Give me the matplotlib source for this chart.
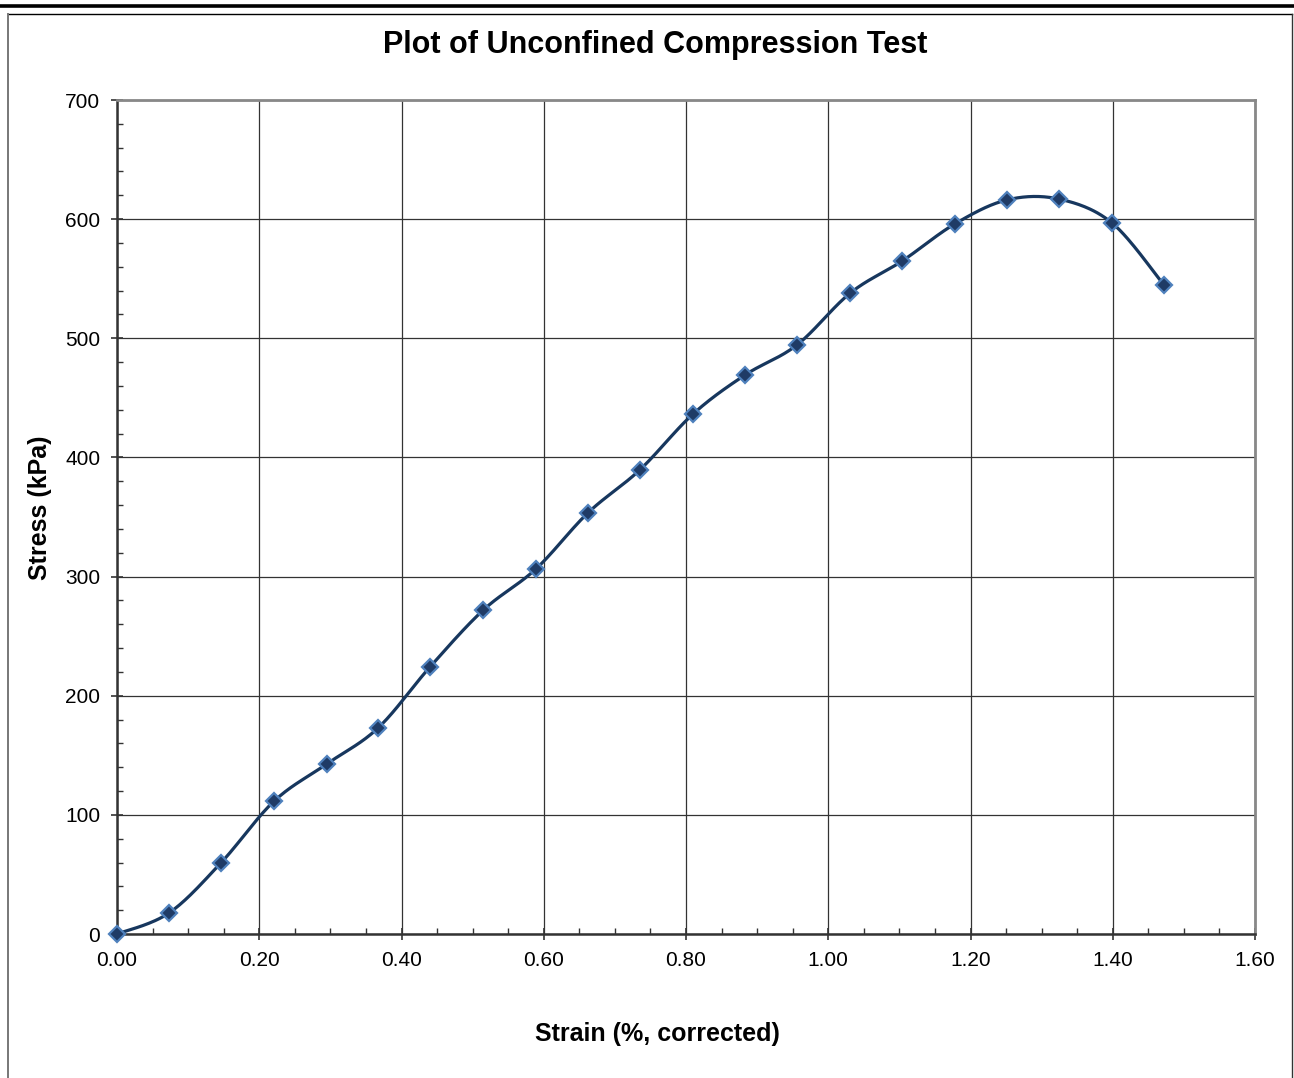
import numpy as np
import matplotlib
matplotlib.use("Agg")
import matplotlib.pyplot as plt
from matplotlib.lines import Line2D
from matplotlib.ticker import MultipleLocator, FormatStrFormatter

plt.rcParams['font.family'] = ['Liberation Sans', 'DejaVu Sans']

# ---- data ----
strain = [0.000, 0.073, 0.146, 0.221, 0.295, 0.367, 0.440, 0.515, 0.589, 0.662,
          0.735, 0.810, 0.883, 0.956, 1.031, 1.104, 1.178, 1.251, 1.324, 1.399, 1.472]
stress = [0.0, 17.6, 59.6, 111.6, 142.7, 172.9, 224.1, 271.9, 306.4, 353.4,
          389.5, 436.5, 469.2, 494.4, 538.0, 564.9, 596.0, 616.1, 616.9, 596.8, 544.7]

title = "Plot of Unconfined Compression Test"
xlabel = "Strain (%, corrected)"
ylabel = "Stress (kPa)"


def smooth_curve(x, y, n=30):
    """Excel-style smoothed line (Catmull-Rom as cubic Bezier)."""
    P = np.column_stack([x, y]).astype(float)
    Pe = np.vstack([P[0], P, P[-1]])
    t = np.linspace(0, 1, n)[:, None]
    out = []
    for i in range(len(P) - 1):
        p0, p1, p2, p3 = Pe[i], Pe[i + 1], Pe[i + 2], Pe[i + 3]
        c1 = p1 + (p2 - p0) / 6.0
        c2 = p2 - (p3 - p1) / 6.0
        seg = ((1 - t) ** 3) * p1 + 3 * ((1 - t) ** 2) * t * c1 + 3 * (1 - t) * t ** 2 * c2 + t ** 3 * p2
        out.append(seg if i == 0 else seg[1:])
    out = np.vstack(out)
    return out[:, 0], out[:, 1]


W, H = 1294, 1078
fig = plt.figure(figsize=(W / 100, H / 100), dpi=100)
ax = fig.add_axes([117 / W, 1 - 934 / H, (1255 - 117) / W, (934 - 100) / H])

sx, sy = smooth_curve(strain, stress)
ax.plot(sx, sy, color='#17375E', lw=2.3, zorder=3, solid_capstyle='round')
ax.plot(strain, stress, linestyle='none', marker='D', markersize=8,
        markerfacecolor='#1F3B66', markeredgecolor='#4F81BD', markeredgewidth=1.6, zorder=4,
        clip_on=False)

ax.set_xlim(0, 1.6)
ax.set_ylim(0, 700)
ax.xaxis.set_major_locator(MultipleLocator(0.2))
ax.xaxis.set_minor_locator(MultipleLocator(0.05))
ax.yaxis.set_major_locator(MultipleLocator(100))
ax.yaxis.set_minor_locator(MultipleLocator(20))
ax.xaxis.set_major_formatter(FormatStrFormatter('%.2f'))

ax.grid(True, which='major', color='#333333', lw=0.9)
ax.set_axisbelow(True)

ax.tick_params(axis='both', which='major', direction='inout', length=8, width=1.2,
               labelsize=15, color='#333333')
ax.tick_params(axis='x', which='major', pad=8)
ax.tick_params(axis='y', which='major', pad=8)
ax.tick_params(axis='both', which='minor', direction='in', length=4, width=1.0, color='#333333')

for s in ['left', 'bottom']:
    ax.spines[s].set_color('#333333')
    ax.spines[s].set_linewidth(1.8)
for s in ['top', 'right']:
    ax.spines[s].set_color('#888888')
    ax.spines[s].set_linewidth(2.0)

fig.text(655 / W, 1 - 45 / H, title, ha='center', va='center', fontsize=22, fontweight='bold')
fig.text(657 / W, 1 - 1034 / H, xlabel, ha='center', va='center', fontsize=18, fontweight='bold')
fig.text(40 / W, 1 - 508 / H, ylabel, ha='center', va='center', fontsize=18, fontweight='bold',
         rotation=90)

# chart frame and top rule
fig.add_artist(Line2D([0, 1], [1 - 6 / H, 1 - 6 / H], color='black', lw=2.6))
fig.add_artist(Line2D([8 / W, 1292 / W], [1 - 14 / H, 1 - 14 / H], color='black', lw=1.0))
fig.add_artist(Line2D([8 / W, 8 / W], [0, 1 - 14 / H], color='#777777', lw=1.4))
fig.add_artist(Line2D([1292 / W, 1292 / W], [0, 1 - 14 / H], color='#333333', lw=1.0))

fig.savefig('out.png', dpi=100)
